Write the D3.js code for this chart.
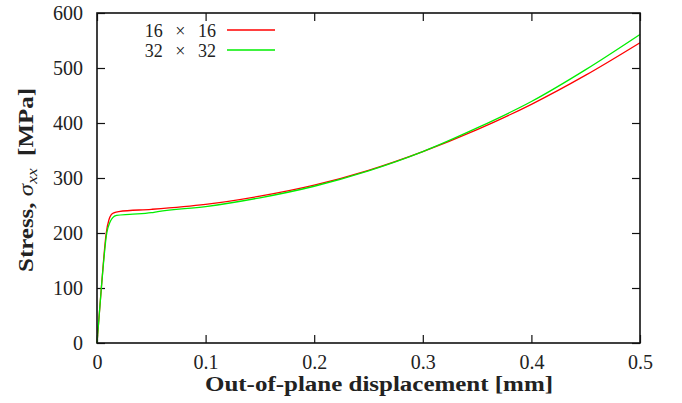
<!DOCTYPE html>
<html>
<head>
<meta charset="utf-8">
<script src="https://cdn.jsdelivr.net/npm/d3@7"></script>
<style>
  html, body { margin: 0; padding: 0; background: #fff; }
  svg { display: block; }
  text { font-family: "Liberation Serif", "DejaVu Serif", serif; fill: #222; }
</style>
</head>
<body>
<svg id="chart" width="682" height="403"></svg>
<script>
// Out-of-plane displacement [mm] and stress sigma_xx [MPa] for two mesh sizes
const disp16 = [0, 0.004, 0.0085, 0.011, 0.013, 0.016, 0.02, 0.05, 0.1, 0.15, 0.2, 0.25, 0.3, 0.35, 0.4, 0.45, 0.5];
const stress16 = [0, 100, 200, 224, 233, 237, 239, 243, 252, 267, 287, 314, 348, 388, 434, 487, 546];
const disp32 = [0, 0.004, 0.009, 0.012, 0.0145, 0.018, 0.03, 0.05, 0.056, 0.1, 0.15, 0.2, 0.25, 0.3, 0.35, 0.4, 0.45, 0.5];
const stress32 = [0, 100, 200, 220, 228, 232, 234, 237, 239, 248, 264, 285, 313, 348, 391, 439, 497, 561];
const meshSizes = ["16", "32"];
const seriesColors = ["#ff0000", "#00ee00"];
const xTicks = [0, 0.1, 0.2, 0.3, 0.4, 0.5];
const yTicks = [0, 100, 200, 300, 400, 500, 600];

const svg = d3.select("#chart");
const L = 97, R = 640, T = 13, B = 343;

const x = d3.scaleLinear().domain([0, 0.5]).range([L, R]);
const y = d3.scaleLinear().domain([0, 600]).range([B, T]);

const tickLen = 8;
const fmtX = d => d === 0 ? "0" : d3.format(".1f")(d);
const styleTicks = g => g.selectAll("line").attr("stroke", "#111").attr("stroke-width", 1.2);
const styleLabels = g => g.selectAll("text")
  .attr("font-size", 20).attr("font-family", "Liberation Serif").attr("fill", "#222");

// Bottom axis with labels, top mirror ticks
svg.append("g").attr("transform", `translate(0,${B})`)
  .call(d3.axisBottom(x).tickValues(xTicks).tickFormat(fmtX).tickSizeInner(-tickLen).tickSizeOuter(0).tickPadding(12))
  .call(g => g.select(".domain").remove())
  .call(styleTicks).call(styleLabels);
svg.append("g").attr("transform", `translate(0,${T})`)
  .call(d3.axisTop(x).tickValues(xTicks).tickFormat("").tickSizeInner(-tickLen).tickSizeOuter(0))
  .call(g => g.select(".domain").remove())
  .call(styleTicks);

// Left axis with labels, right mirror ticks
svg.append("g").attr("transform", `translate(${L},0)`)
  .call(d3.axisLeft(y).tickValues(yTicks).tickSizeInner(-tickLen).tickSizeOuter(0).tickPadding(14))
  .call(g => g.select(".domain").remove())
  .call(styleTicks).call(styleLabels);
svg.append("g").attr("transform", `translate(${R},0)`)
  .call(d3.axisRight(y).tickValues(yTicks).tickFormat("").tickSizeInner(-tickLen).tickSizeOuter(0))
  .call(g => g.select(".domain").remove())
  .call(styleTicks);

// Curves
const line = d3.line().x(d => x(d[0])).y(d => y(d[1])).curve(d3.curveMonotoneX);
const series = [
  d3.zip(disp16, stress16),
  d3.zip(disp32, stress32)
];
series.forEach((pts, i) => {
  svg.append("path").datum(pts)
    .attr("fill", "none")
    .attr("stroke", seriesColors[i])
    .attr("stroke-width", 1.3)
    .attr("d", line);
});

// Plot frame
svg.append("rect")
  .attr("x", L).attr("y", T).attr("width", R - L).attr("height", B - T)
  .attr("fill", "none").attr("stroke", "#111").attr("stroke-width", 1.6);

// Legend: a row per mesh with its sample line
const legend = svg.append("g");
const rowGap = 20;
meshSizes.forEach((n, i) => {
  const yy = 30 + i * rowGap;
  legend.append("text")
    .attr("x", 216).attr("y", yy + 6.5)
    .attr("text-anchor", "end")
    .attr("font-size", 18)
    .text(`${n}\u2002\u2009\u00d7\u2002\u2009${n}`);
  legend.append("line")
    .attr("x1", 227).attr("x2", 275)
    .attr("y1", yy).attr("y2", yy)
    .attr("stroke", seriesColors[i]).attr("stroke-width", 1.3);
});

// Axis titles
svg.append("text")
  .attr("x", 379).attr("y", 391)
  .attr("text-anchor", "middle")
  .attr("font-size", 20).attr("font-weight", "bold")
  .attr("textLength", 348).attr("lengthAdjust", "spacingAndGlyphs")
  .text("Out-of-plane displacement [mm]");

const yl = svg.append("text")
  .attr("transform", "translate(33,180) rotate(-90)")
  .attr("text-anchor", "middle")
  .attr("font-size", 20)
  .attr("textLength", 184).attr("lengthAdjust", "spacingAndGlyphs");
yl.append("tspan").attr("font-weight", "bold").text("Stress, ");
yl.append("tspan").attr("font-style", "italic").text("\u03c3");
yl.append("tspan").attr("font-style", "italic").attr("font-size", 14).attr("dy", 4).text("xx");
yl.append("tspan").attr("dy", -4).attr("font-weight", "bold").text("\u2002[MPa]");
</script>
</body>
</html>
